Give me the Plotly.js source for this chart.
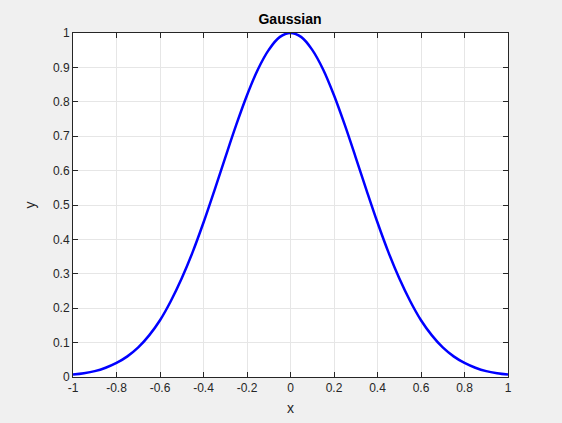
<!DOCTYPE html>
<html>
<head>
<meta charset="utf-8">
<script src="https://cdn.plot.ly/plotly-3.0.1.min.js"></script>
<style>body{margin:0;background:#f0f0f0;}#plot{width:562px;height:423px;}</style>
</head>
<body>
<div id="plot"></div>
<script>
// values, right half; left half mirrors it
var xHalf = [0, 0.05, 0.1, 0.15, 0.2, 0.25, 0.3, 0.35, 0.4, 0.45, 0.5, 0.55, 0.6, 0.65, 0.7, 0.75, 0.8, 0.85, 0.9, 0.95, 1];
var yHalf = [1, 0.988, 0.951, 0.894, 0.819, 0.732, 0.638, 0.542, 0.449, 0.363, 0.287, 0.221, 0.165, 0.121, 0.086, 0.060, 0.041, 0.027, 0.017, 0.011, 0.007];
var xTicks = [-1, -0.8, -0.6, -0.4, -0.2, 0, 0.2, 0.4, 0.6, 0.8, 1];
var yTicks = [0, 0.1, 0.2, 0.3, 0.4, 0.5, 0.6, 0.7, 0.8, 0.9, 1];

var xs = [], ys = [];
for (var i = xHalf.length - 1; i > 0; i--) { xs.push(-xHalf[i]); ys.push(yHalf[i]); }
for (var i = 0; i < xHalf.length; i++) { xs.push(xHalf[i]); ys.push(yHalf[i]); }

var axisCommon = {
  showline: true, linecolor: '#262626', linewidth: 1, mirror: 'ticks',
  ticks: 'inside', ticklen: 5, tickcolor: '#262626',
  showgrid: true, gridcolor: '#e6e6e6', zeroline: false,
  tickfont: {family: 'Arial, Liberation Sans', size: 12, color: '#262626'}
};

var layout = {
  width: 562, height: 423,
  paper_bgcolor: '#f0f0f0', plot_bgcolor: '#ffffff',
  margin: {l: 73, r: 54, t: 33, b: 46},
  showlegend: false,
  title: {text: '<b>Gaussian</b>', x: 0.516, xanchor: 'center', y: 0.955, yanchor: 'middle',
          font: {family: 'Arial, Liberation Sans', size: 14, color: '#000'}},
  xaxis: Object.assign({}, axisCommon, {range: [-1, 1], tickvals: xTicks, ticktext: xTicks.map(String),
          title: {text: 'x', standoff: 8, font: {family: 'Arial, Liberation Sans', size: 14, color: '#262626'}}}),
  yaxis: Object.assign({}, axisCommon, {range: [0, 1], tickvals: yTicks, ticktext: yTicks.map(String),
          title: {text: 'y', standoff: 14, font: {family: 'Arial, Liberation Sans', size: 14, color: '#262626'}}})
};

Plotly.newPlot('plot', [{
  x: xs, y: ys, type: 'scatter', mode: 'lines',
  line: {color: '#0000ff', width: 2.5, shape: 'spline'}
}], layout, {staticPlot: true});
</script>
</body>
</html>
